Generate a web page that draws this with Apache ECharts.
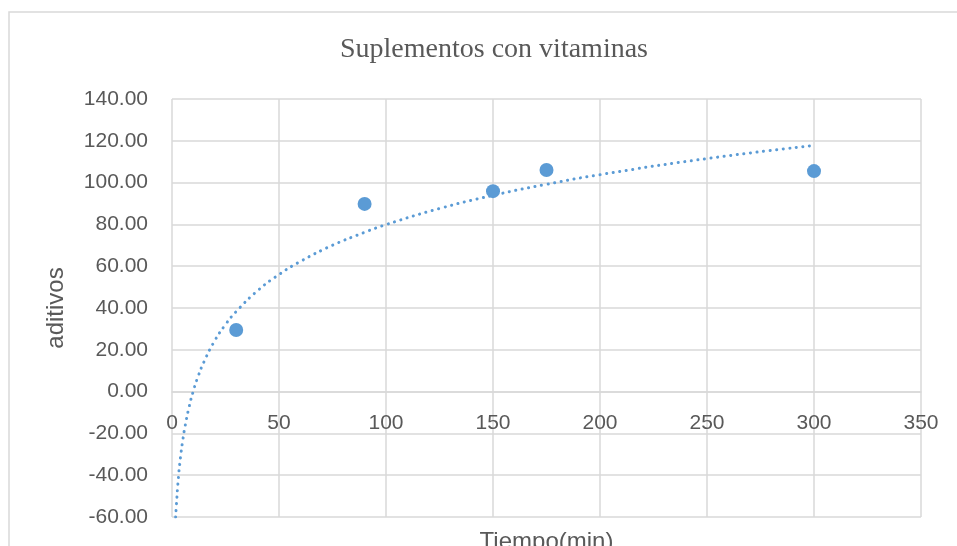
<!DOCTYPE html>
<html>
<head>
<meta charset="utf-8">
<script src="https://cdn.jsdelivr.net/npm/echarts@6/dist/echarts.min.js"></script>
<style>html,body{margin:0;padding:0;background:#fff;}#c{width:957px;height:546px;}</style>
</head>
<body>
<div id="c"></div>
<script>
const titleText = 'Suplementos con vitaminas';
const xName = 'Tiempo(min)';
const yName = 'aditivos';
const timeMin = [30, 90, 150, 175, 300];
const aditivos = [29.5, 89.8, 95.9, 106.0, 105.5];
const trendX = [1.7, 2, 3, 4, 5, 6, 8, 10, 12, 15, 20, 25, 30, 40, 50, 60, 75, 90, 100, 125, 150, 175, 200, 250, 300];
const trendY = [-60.0, -55.1, -41.1, -31.2, -23.5, -17.2, -7.3, 0.4, 6.7, 14.4, 24.4, 32.1, 38.3, 48.3, 56.0, 62.3, 70.0, 76.2, 79.9, 87.6, 93.9, 99.2, 103.8, 111.5, 117.8];

const chart = echarts.init(document.getElementById('c'));
const txt = '#595959';
const gridCol = '#d9d9d9';
const font = 'Liberation Sans';
chart.setOption({
  animation: false,
  backgroundColor: '#fff',
  title: {
    text: titleText, left: 489, top: 31, textAlign: 'center',
    textStyle: { fontFamily: 'Liberation Serif', fontWeight: 'normal', fontSize: 28, color: txt }
  },
  graphic: [{
    type: 'rect', shape: { x: 9, y: 12, width: 1000, height: 600 },
    style: { fill: 'none', stroke: gridCol, lineWidth: 1.5 }, silent: true, z: -1
  }],
  grid: { left: 172, right: 36, top: 99, bottom: 29, outerBoundsMode: 'none', containLabel: false },
  xAxis: {
    type: 'value', min: 0, max: 350, interval: 50, offset: -125.4,
    name: xName, nameLocation: 'middle', nameGap: 138.5,
    nameTextStyle: { fontFamily: font, fontSize: 24, color: txt, verticalAlign: 'top' },
    axisLine: { onZero: false, lineStyle: { color: gridCol, width: 1.5 } },
    axisTick: { show: false },
    axisLabel: { fontFamily: font, fontSize: 21, color: txt, margin: 21 },
    splitLine: { show: true, lineStyle: { color: gridCol, width: 1.5 } }
  },
  yAxis: {
    type: 'value', min: -60, max: 140, interval: 20,
    name: yName, nameLocation: 'middle', nameGap: 104, nameRotate: 90,
    nameTextStyle: { fontFamily: font, fontSize: 24, color: txt },
    axisLine: { show: false },
    axisTick: { show: false },
    axisLabel: { fontFamily: font, fontSize: 21, color: txt, margin: 24, formatter: v => v.toFixed(2) },
    splitLine: { show: true, lineStyle: { color: gridCol, width: 1.5 } }
  },
  series: [
    {
      type: 'line', data: trendX.map((x, i) => [x, trendY[i]]), smooth: true, showSymbol: false,
      lineStyle: { color: '#5B9BD5', width: 3, type: [0.1, 6.5], cap: 'round' }, z: 2
    },
    {
      type: 'scatter', data: timeMin.map((x, i) => [x, aditivos[i]]), symbolSize: 14,
      itemStyle: { color: '#5B9BD5', opacity: 1 }, z: 3
    }
  ]
});
</script>
</body>
</html>
